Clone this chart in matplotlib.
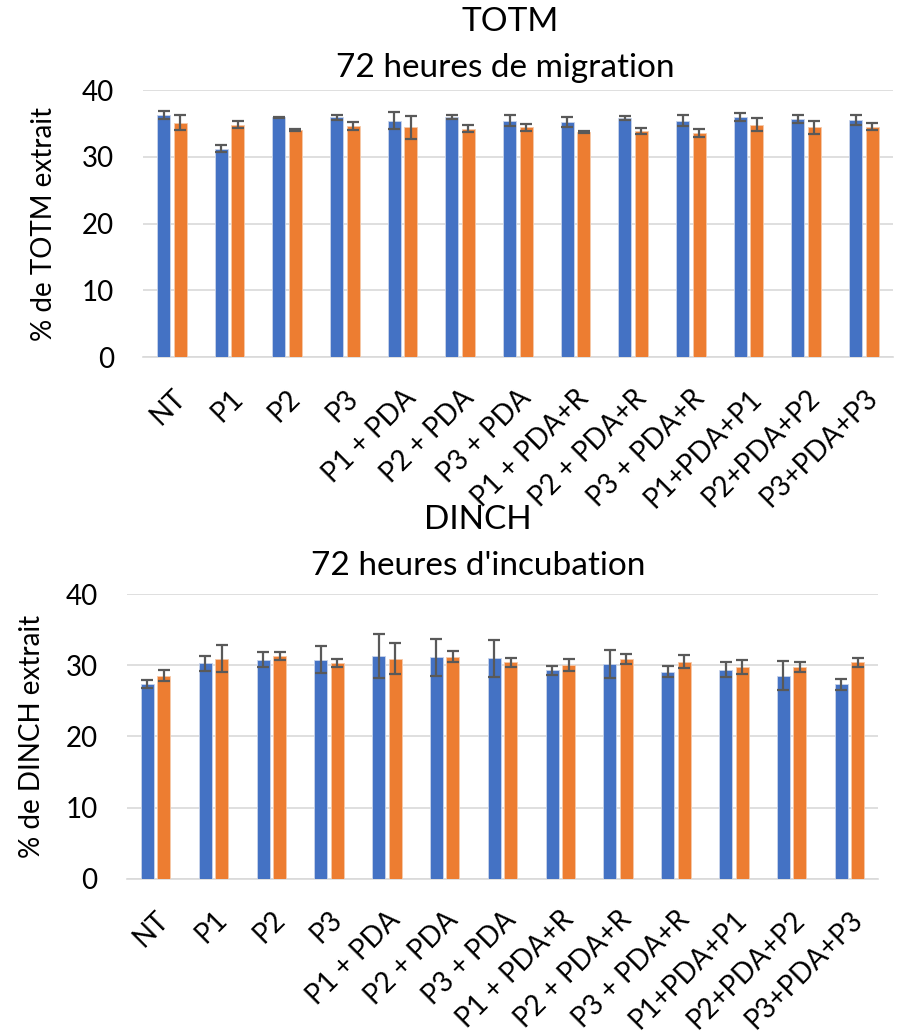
import numpy as np
import matplotlib
matplotlib.use("Agg")
import matplotlib.pyplot as plt

plt.rcParams['font.family'] = ['Lato', 'DejaVu Sans']

# Catégories
categories = ['NT', 'P1', 'P2', 'P3', 'P1 + PDA', 'P2 + PDA', 'P3 + PDA',
              'P1 + PDA+R', 'P2 + PDA+R', 'P3 + PDA+R',
              'P1+PDA+P1', 'P2+PDA+P2', 'P3+PDA+P3']

# TOTM - 72 heures de migration
totm_bleu = [36.2, 31.2, 35.9, 35.9, 35.4, 35.9, 35.4, 35.2, 35.8, 35.4, 35.9, 35.7, 35.5]
totm_bleu_err = [0.6, 0.5, 0.1, 0.35, 1.3, 0.3, 0.8, 0.7, 0.33, 0.8, 0.6, 0.6, 0.7]
totm_orange = [35.1, 34.8, 34.0, 34.6, 34.4, 34.2, 34.4, 33.7, 33.9, 33.6, 34.8, 34.4, 34.5]
totm_orange_err = [1.1, 0.5, 0.1, 0.55, 1.7, 0.5, 0.55, 0.1, 0.48, 0.58, 0.98, 0.93, 0.55]

# DINCH - 72 heures d'incubation
dinch_bleu = [27.4, 30.3, 30.8, 30.8, 31.3, 31.1, 31.0, 29.3, 30.2, 29.1, 29.4, 28.55, 27.3]
dinch_bleu_err = [0.58, 1.05, 1.07, 1.9, 3.1, 2.6, 2.6, 0.65, 1.94, 0.75, 1.12, 2.05, 0.77]
dinch_orange = [28.55, 30.9, 31.3, 30.3, 30.9, 31.2, 30.4, 30.0, 30.9, 30.5, 29.8, 29.8, 30.4]
dinch_orange_err = [0.75, 1.9, 0.56, 0.54, 2.2, 0.8, 0.58, 0.82, 0.72, 0.91, 1.0, 0.7, 0.58]

bleu = '#4472C4'
orange = '#ED7D31'
gris = '#D9D9D9'

fig = plt.figure(figsize=(8.99, 10.35), dpi=100)
ax1 = fig.add_axes([0.159, 0.655, 0.834, 0.258])
ax2 = fig.add_axes([0.141, 0.151, 0.836, 0.275])


def dessiner(ax, v1, e1, v2, e2, ylabel):
    x = np.arange(len(categories))
    w = 0.225
    d = 0.143
    err_kw = dict(ecolor='#595959', elinewidth=1.6, capsize=4.5, capthick=1.6)
    ax.bar(x - d, v1, w, color=bleu, edgecolor='#c9d4ea', linewidth=0.6,
           yerr=e1, error_kw=err_kw, zorder=3)
    ax.bar(x + d, v2, w, color=orange, edgecolor='#f6c9a9', linewidth=0.6,
           yerr=e2, error_kw=err_kw, zorder=3)
    ax.set_xlim(-0.5, len(categories) - 0.5)
    ax.set_ylim(0, 40)
    ax.set_yticks([0, 10, 20, 30, 40])
    ax.yaxis.grid(True, color=gris, linewidth=1.2, zorder=0)
    ax.set_axisbelow(True)
    for s in ['top', 'right', 'left']:
        ax.spines[s].set_visible(False)
    ax.spines['bottom'].set_color(gris)
    ax.spines['bottom'].set_linewidth(1.2)
    ax.tick_params(length=0, labelsize=20)
    ax.tick_params(axis='y', pad=21)
    ax.tick_params(axis='x', pad=20)
    ax.set_xticks(x)
    ax.set_xticklabels(categories, rotation=45, ha='right', rotation_mode='anchor')
    ax.set_ylabel(ylabel, fontsize=20)


dessiner(ax1, totm_bleu, totm_bleu_err, totm_orange, totm_orange_err, '% de TOTM extrait')
dessiner(ax2, dinch_bleu, dinch_bleu_err, dinch_orange, dinch_orange_err, '% de DINCH extrait')

ax1.yaxis.set_label_coords(-0.115, 0.5)
ax2.yaxis.set_label_coords(-0.109, 0.5)

fig.text(510 / 899, 1 - 22 / 1035, 'TOTM', ha='center', va='center', fontsize=24)
fig.text(505 / 899, 1 - 68 / 1035, '72 heures de migration', ha='center', va='center', fontsize=24)
fig.text(478 / 899, 1 - 520 / 1035, 'DINCH', ha='center', va='center', fontsize=24)
fig.text(478 / 899, 1 - 566 / 1035, "72 heures d'incubation", ha='center', va='center', fontsize=24)

fig.savefig('out.png', dpi=100)
